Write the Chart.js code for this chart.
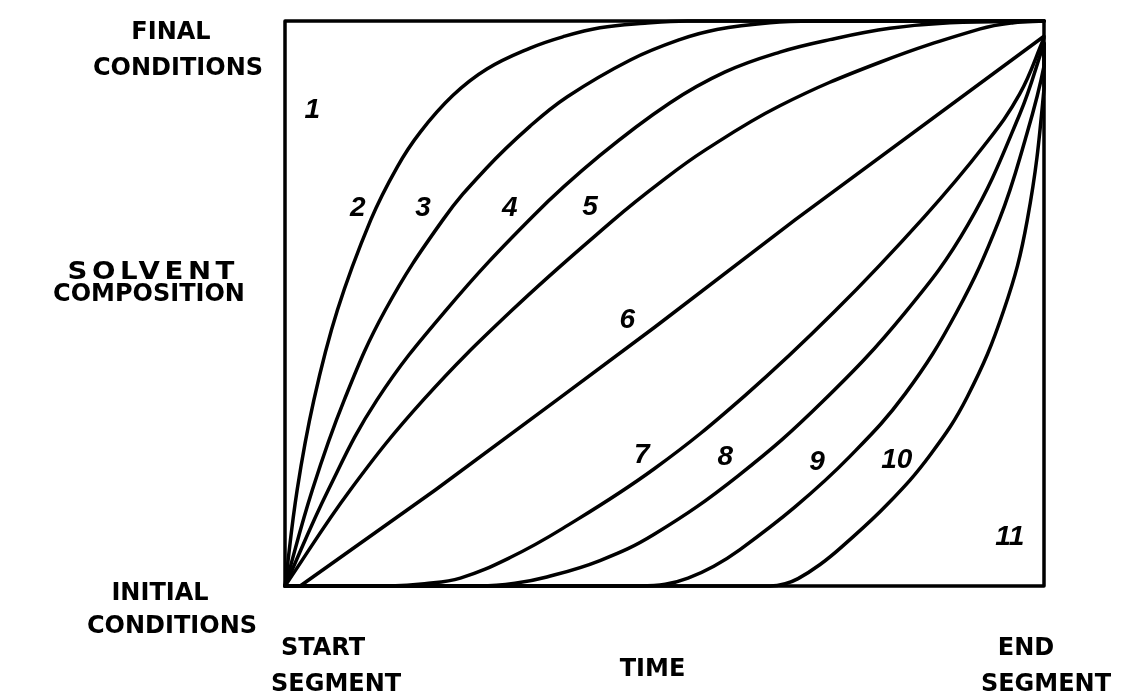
<!DOCTYPE html>
<html>
<head>
<meta charset="utf-8">
<script src="https://cdn.jsdelivr.net/npm/chart.js@4.4.0/dist/chart.umd.min.js"></script>
<style>
  html, body { margin: 0; padding: 0; background: #fff; }
  #wrap { width: 1126px; height: 694px; position: relative; }
</style>
</head>
<body>
<div id="wrap"><canvas id="myChart"></canvas></div>
<script>
// gradient curve numbers 1..11
const curveNames = ['1', '2', '3', '4', '5', '6', '7', '8', '9', '10', '11'];

// time fraction (x) and solvent composition fraction (y)
const curve1x = [0, 0, 1];
const curve1y = [0, 1, 1];
const curve2x = [0, 0.016, 0.038, 0.069, 0.113, 0.148, 0.178, 0.221, 0.266, 0.323, 0.366, 0.415, 0.474, 0.53, 1];
const curve2y = [0, 0.170, 0.329, 0.488, 0.648, 0.742, 0.803, 0.868, 0.915, 0.952, 0.972, 0.988, 0.996, 1, 1];
const curve3x = [0, 0.036, 0.078, 0.132, 0.208, 0.265, 0.323, 0.372, 0.455, 0.520, 0.569, 0.639, 0.70, 1];
const curve3y = [0, 0.170, 0.329, 0.488, 0.648, 0.739, 0.814, 0.866, 0.931, 0.967, 0.985, 0.997, 1, 1];
const curve4x = [0, 0.057, 0.121, 0.212, 0.327, 0.415, 0.507, 0.58, 0.652, 0.718, 0.797, 0.876, 1];
const curve4y = [0, 0.170, 0.329, 0.488, 0.655, 0.762, 0.855, 0.910, 0.945, 0.967, 0.987, 0.997, 1];
const curve5x = [0, 0.086, 0.182, 0.299, 0.433, 0.494, 0.553, 0.652, 0.784, 0.916, 0.96, 1];
const curve5y = [0, 0.170, 0.329, 0.488, 0.648, 0.714, 0.771, 0.850, 0.927, 0.986, 0.997, 1];
const curve6x = [0, 0.02, 0.198, 0.358, 0.487, 0.672, 1];
const curve6y = [0, 0, 0.170, 0.329, 0.458, 0.648, 0.973];
const curve7x = [0, 0.138, 0.184, 0.231, 0.296, 0.366, 0.487, 0.606, 0.725, 0.842, 0.922, 0.968, 1];
const curve7y = [0, 0, 0.004, 0.014, 0.050, 0.102, 0.208, 0.337, 0.487, 0.653, 0.781, 0.871, 0.97];
const curve8x = [0, 0.257, 0.303, 0.345, 0.415, 0.487, 0.597, 0.708, 0.817, 0.900, 0.968, 1];
const curve8y = [0, 0, 0.005, 0.016, 0.045, 0.092, 0.195, 0.326, 0.484, 0.640, 0.835, 0.96];
const curve9x = [0, 0.468, 0.501, 0.531, 0.565, 0.599, 0.672, 0.744, 0.817, 0.885, 0.941, 0.975, 1, 1];
const curve9y = [0, 0, 0.003, 0.014, 0.035, 0.064, 0.140, 0.229, 0.340, 0.485, 0.648, 0.789, 0.92, 0.96];
const curve10x = [0, 0.639, 0.659, 0.676, 0.705, 0.735, 0.794, 0.85, 0.899, 0.947, 0.978, 1, 1];
const curve10y = [0, 0, 0.004, 0.013, 0.038, 0.071, 0.145, 0.232, 0.335, 0.488, 0.648, 0.88, 0.96];
const curve11x = [0, 1, 1];
const curve11y = [0, 0, 1];

const allX = [curve1x, curve2x, curve3x, curve4x, curve5x, curve6x, curve7x, curve8x, curve9x, curve10x, curve11x];
const allY = [curve1y, curve2y, curve3y, curve4y, curve5y, curve6y, curve7y, curve8y, curve9y, curve10y, curve11y];

// where each curve number is written (data units)
const numberSpots = [
  [0.036, 0.842], [0.096, 0.669], [0.182, 0.669], [0.296, 0.669], [0.402, 0.671],
  [0.451, 0.471], [0.470, 0.232], [0.580, 0.228], [0.701, 0.219], [0.806, 0.223], [0.955, 0.087]
];

function toPoints(xs, ys) {
  return xs.map((x, i) => ({x: x, y: ys[i]}));
}

const straight = [0, 5, 10];

const datasets = curveNames.map((name, i) => ({
  label: name,
  data: toPoints(allX[i], allY[i]),
  showLine: true,
  borderColor: '#000',
  borderWidth: 3.5,
  pointRadius: 0,
  fill: false,
  tension: straight.includes(i) ? 0 : 0.4,
  borderCapStyle: 'round',
  borderJoinStyle: 'round'
}));

const textPlugin = {
  id: 'figureText',
  afterDatasetsDraw(chart) {
    const ctx = chart.ctx;
    const xs = chart.scales.x, ys = chart.scales.y;
    ctx.save();
    ctx.fillStyle = '#000';
    ctx.textBaseline = 'middle';
    ctx.textAlign = 'center';
    ctx.font = 'italic bold 28px "Liberation Sans", Arial, sans-serif';
    numberSpots.forEach((p, i) => {
      ctx.fillText(curveNames[i], xs.getPixelForValue(p[0]), ys.getPixelForValue(p[1]));
    });

    ctx.font = 'bold 24px "DejaVu Sans", sans-serif';
    ctx.textBaseline = 'alphabetic';
    const a = chart.chartArea;
    ctx.fillText('FINAL', a.left - 114, 39);
    ctx.fillText('CONDITIONS', a.left - 107, 75);
    ctx.fillText('COMPOSITION', a.left - 136, 301);
    ctx.fillText('INITIAL', a.left - 125, 600);
    ctx.fillText('CONDITIONS', a.left - 113, 633);
    ctx.fillText('TIME', (a.left + a.right) / 2 - 12, 676);
    ctx.fillText('END', a.right - 18, 655);
    ctx.fillText('SEGMENT', a.right + 2, 691);
    ctx.textAlign = 'left';
    ctx.fillText('START', a.left - 4, 655);
    ctx.fillText('SEGMENT', a.left - 14, 691);

    // SOLVENT is set wider than the other words
    ctx.save();
    ctx.translate(a.left - 134, 279);
    ctx.scale(1.15, 1);
    ctx.textAlign = 'center';
    ctx.letterSpacing = '4px';
    ctx.fillText('SOLVENT', 2, 0);
    ctx.restore();
    ctx.restore();
  }
};

new Chart(document.getElementById('myChart'), {
  type: 'scatter',
  data: { datasets: datasets },
  options: {
    responsive: true,
    maintainAspectRatio: false,
    animation: false,
    clip: false,
    layout: { padding: { left: 285, right: 82, top: 21, bottom: 108 } },
    plugins: { legend: { display: false }, tooltip: { enabled: false } },
    scales: {
      x: { type: 'linear', min: 0, max: 1, display: false },
      y: { type: 'linear', min: 0, max: 1, display: false }
    }
  },
  plugins: [textPlugin]
});
</script>
</body>
</html>
